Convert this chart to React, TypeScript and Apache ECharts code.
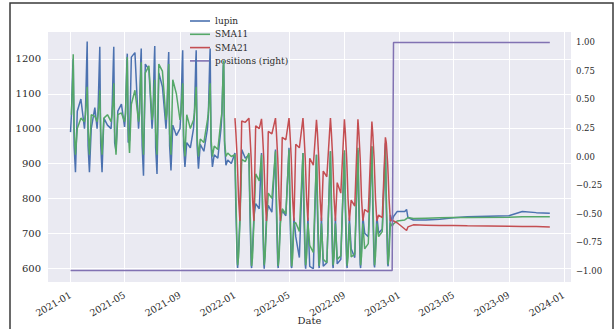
import React, { useEffect, useRef } from 'react';
import * as echarts from 'echarts';

// Plot order of the chart (dates as they sit on the x axis)
const dates = [
  '2021-01-01','2021-01-03','2021-01-06','2021-01-07','2021-01-09','2021-01-12','2021-01-16','2021-01-24',
  '2021-02-01','2021-02-03','2021-02-06','2021-02-07','2021-02-09','2021-02-12','2021-02-16','2021-02-24',
  '2021-03-01','2021-03-03','2021-03-06','2021-03-07','2021-03-09','2021-03-12','2021-03-16','2021-03-24',
  '2021-04-01','2021-04-03','2021-04-06','2021-04-07','2021-04-09','2021-04-12','2021-04-16','2021-04-24',
  '2021-05-01','2021-05-03','2021-05-06','2021-05-07','2021-05-09','2021-05-12','2021-05-16','2021-05-24',
  '2021-06-01','2021-06-03','2021-06-06','2021-06-07','2021-06-09','2021-06-12','2021-06-16','2021-06-24',
  '2021-07-01','2021-07-03','2021-07-06','2021-07-07','2021-07-09','2021-07-12','2021-07-16','2021-07-24',
  '2021-08-01','2021-08-03','2021-08-06','2021-08-07','2021-08-09','2021-08-12','2021-08-16','2021-08-24',
  '2021-09-01','2021-09-03','2021-09-06','2021-09-07','2021-09-09','2021-09-12','2021-09-16','2021-09-24',
  '2021-10-01','2021-10-03','2021-10-06','2021-10-07','2021-10-09','2021-10-12','2021-10-16','2021-10-24',
  '2021-11-01','2021-11-03','2021-11-06','2021-11-07','2021-11-09','2021-11-12','2021-11-16','2021-11-24',
  '2021-12-01','2021-12-03','2021-12-06','2021-12-07','2021-12-09','2021-12-12','2021-12-16','2021-12-24',
  '2022-01-01','2022-01-03','2022-01-06','2022-01-07','2022-01-09','2022-01-12','2022-01-16','2022-01-24',
  '2022-02-01','2022-02-03','2022-02-06','2022-02-07','2022-02-09','2022-02-12','2022-02-16','2022-02-24',
  '2022-03-01','2022-03-03','2022-03-06','2022-03-07','2022-03-09','2022-03-12','2022-03-16','2022-03-24',
  '2022-04-01','2022-04-03','2022-04-06','2022-04-07','2022-04-09','2022-04-12','2022-04-16','2022-04-24',
  '2022-05-01','2022-05-03','2022-05-06','2022-05-07','2022-05-09','2022-05-12','2022-05-16','2022-05-24',
  '2022-06-01','2022-06-03','2022-06-06','2022-06-07','2022-06-09','2022-06-12','2022-06-16','2022-06-24',
  '2022-07-01','2022-07-03','2022-07-06','2022-07-07','2022-07-09','2022-07-12','2022-07-16','2022-07-24',
  '2022-08-01','2022-08-03','2022-08-06','2022-08-07','2022-08-09','2022-08-12','2022-08-16','2022-08-24',
  '2022-09-01','2022-09-03','2022-09-06','2022-09-07','2022-09-09','2022-09-12','2022-09-16','2022-09-24',
  '2022-10-01','2022-10-03','2022-10-06','2022-10-07','2022-10-09','2022-10-12','2022-10-16','2022-10-24',
  '2022-11-01','2022-11-03','2022-11-06','2022-11-07','2022-11-09','2022-11-12','2022-11-16','2022-11-24',
  '2022-12-01','2022-12-03','2022-12-06','2022-12-07','2022-12-09','2022-12-12','2022-12-16','2022-12-19','2022-12-27',
  '2023-01-13','2023-01-17','2023-01-20',
  '2023-02-01','2023-03-01','2023-04-01','2023-05-01','2023-06-01','2023-09-01','2023-10-01','2023-11-01','2023-12-01',
];

const lupin = [
  990,1040,1180,1200,950,875, 1050,1085,
  1000,1040,1200,1250,950,875, 1000,1060,
  1000,1045,1190,1235,955,875, 1030,1010,
  1000,1040,1190,1235,960,935, 1050,1070,
  1005,1040,1190,1215,960,965, 1205,1218,
  1000,1040,1200,1230,950,865, 1185,1170,
  1000,1040,1200,1237,945,870, 1160,1120,
  1000,1045,1190,1220,950,880, 1010,980,
  1000,1045,1190,1225,950,890, 960,945,
  1000,1040,1190,1225,950,885, 955,935,
  1000,1040,1195,1230,950,890, 925,915,
  1000,1040,1180,1190,955,895, 910,900,
  930,770,615,600,650,745, 940,915,
  925,775,610,600,655,745, 785,770,
  930,770,615,598,650,745, 780,760,
  940,765,610,600,650,745, 765,750,
  945,760,605,600,655,745, 690,630,
  930,760,610,598,650,745, 605,598,
  925,765,612,600,655,745, 605,615,
  935,770,610,600,650,745, 612,625,
  930,765,612,600,660,745, 655,630,
  938,770,610,600,655,748, 700,690,
  947,765,610,602,660,750, 700,712,
  958,770,612,605,665,752, 735,748,762,
  762,768,745,
  738,738,740,744,747,750,762,759,757,
];

const sma11 = [
  null,1040,1150,1213,1000,925, 1000,1030,
  1020,1040,1090,1120,1000,925, 1040,1035,
  1020,1040,1080,1110,990,925, 1030,1040,
  1020,1040,1090,1130,990,925, 1040,1045,
  1020,1045,1170,1205,1000,930, 1070,1110,
  1020,1045,1160,1190,995,925, 1160,1180,
  1025,1045,1120,1140,990,925, 1185,1165,
  1025,1045,1160,1185,985,925, 1140,1100,
  1025,1045,1110,1130,980,920, 1040,1000,
  1025,1045,1100,1120,975,920, 970,960,
  1025,1045,1110,1130,970,920, 950,940,
  1025,1045,1170,1195,965,920, 930,920,
  925,810,640,608,632,728, 912,905,
  930,805,640,606,630,728, 870,850,
  925,810,642,608,634,728, 815,800,
  935,808,640,606,632,728, 770,755,
  940,810,638,605,630,728, 730,705,
  930,805,640,608,632,728, 665,645,
  925,810,640,606,634,728, 625,615,
  935,808,642,608,632,728, 625,635,
  938,810,640,607,632,728, 632,640,
  945,810,640,608,634,728, 655,670,
  950,812,640,608,635,728, 690,705,
  940,810,642,610,636,730, 720,727,735,
  738,742,745,
  742,743,744,745,745,746,747,747,747,
];

const sma21 = [
  null,null,null,null,null,null, null,null,
  null,null,null,null,null,null, null,null,
  null,null,null,null,null,null, null,null,
  null,null,null,null,null,null, null,null,
  null,null,null,null,null,null, null,null,
  null,null,null,null,null,null, null,null,
  null,null,null,null,null,null, null,null,
  null,null,null,null,null,null, null,null,
  null,null,null,null,null,null, null,null,
  null,null,null,null,null,null, null,null,
  null,null,null,null,null,null, null,null,
  null,null,null,null,null,null, null,null,
  1030,990,915,878,800,735, 1022,1018,
  1030,990,915,878,800,735, 1008,1000,
  1028,990,915,878,800,735, 992,985,
  1030,990,915,878,800,735, 975,968,
  1030,990,915,878,800,735, 955,945,
  1030,990,915,878,800,735, 915,895,
  1025,990,915,878,800,735, 878,862,
  1030,990,915,878,800,735, 845,815,
  1027,990,915,878,800,735, 795,778,
  1027,990,915,878,800,735, 768,760,
  1020,985,912,875,800,735, 752,745,
  975,960,900,870,800,735, 738,735,730,
  712,708,718,
  724,723,722,722,721,720,719,719,718,
];

const positions = [
  -1,-1,-1,-1,-1,-1, -1,-1,
  -1,-1,-1,-1,-1,-1, -1,-1,
  -1,-1,-1,-1,-1,-1, -1,-1,
  -1,-1,-1,-1,-1,-1, -1,-1,
  -1,-1,-1,-1,-1,-1, -1,-1,
  -1,-1,-1,-1,-1,-1, -1,-1,
  -1,-1,-1,-1,-1,-1, -1,-1,
  -1,-1,-1,-1,-1,-1, -1,-1,
  -1,-1,-1,-1,-1,-1, -1,-1,
  -1,-1,-1,-1,-1,-1, -1,-1,
  -1,-1,-1,-1,-1,-1, -1,-1,
  -1,-1,-1,-1,-1,-1, -1,-1,
  -1,-1,-1,-1,-1,-1, -1,-1,
  -1,-1,-1,-1,-1,-1, -1,-1,
  -1,-1,-1,-1,-1,-1, -1,-1,
  -1,-1,-1,-1,-1,-1, -1,-1,
  -1,-1,-1,-1,-1,-1, -1,-1,
  -1,-1,-1,-1,-1,-1, -1,-1,
  -1,-1,-1,-1,-1,-1, -1,-1,
  -1,-1,-1,-1,-1,-1, -1,-1,
  -1,-1,-1,-1,-1,-1, -1,-1,
  -1,-1,-1,-1,-1,-1, -1,-1,
  -1,-1,-1,-1,-1,-1, -1,-1,
  -1,-1,-1,-1,-1,-1, -1,1,1,
  1,1,1,
  1,1,1,1,1,1,1,1,1,
];

const xTickDates = [
  '2021-01-01','2021-05-01','2021-09-01','2022-01-01','2022-05-01',
  '2022-09-01','2023-01-01','2023-05-01','2023-09-01','2024-01-01',
];
const leftTicks = [600, 700, 800, 900, 1000, 1100, 1200];
const rightTicks = [-1, -0.75, -0.5, -0.25, 0, 0.25, 0.5, 0.75, 1];
const xMinDate = '2020-11-12';
const xMaxDate = '2024-01-17';

const FONT = 'DejaVu Serif';
const TEXT = '#2b2b2b';

export default function App() {
  const ref = useRef<HTMLDivElement>(null);

  useEffect(() => {
    const chart = echarts.init(ref.current as HTMLDivElement, null, { renderer: 'svg' });
    const ts = (d: string) => Date.parse(d + 'T00:00:00Z');
    const pairs = (vals: (number | null)[]) => dates.map((d, i) => [ts(d), vals[i]]);
    const fmtDate = (v: number) => {
      const d = new Date(v);
      return `${d.getUTCFullYear()}-${String(d.getUTCMonth() + 1).padStart(2, '0')}`;
    };
    const lineSeries = (name: string, vals: (number | null)[], color: string, yIdx: number, z: number) => ({
      name,
      type: 'line',
      xAxisIndex: 0,
      yAxisIndex: yIdx,
      data: pairs(vals),
      symbol: 'none',
      showSymbol: false,
      connectNulls: false,
      z,
      lineStyle: { color, width: 1.5 },
      itemStyle: { color },
      emphasis: { disabled: true },
    });

    const option: any = {
      animation: false,
      backgroundColor: '#ffffff',
      grid: {
        left: 48,
        top: 31,
        width: 523,
        height: 251,
        show: true,
        backgroundColor: '#EAEAF2',
        borderWidth: 0,
        containLabel: false,
        outerBoundsMode: 'none',
      },
      legend: {
        orient: 'vertical',
        left: 185,
        top: 11,
        icon: 'rect',
        itemWidth: 20,
        itemHeight: 1.6,
        itemGap: 3.3,
        data: ['lupin', 'SMA11', 'SMA21', 'positions (right)'],
        textStyle: { fontFamily: FONT, fontSize: 9, color: TEXT, lineHeight: 10 },
        selectedMode: false,
      },
      xAxis: {
        type: 'value',
        min: ts(xMinDate),
        max: ts(xMaxDate),
        name: 'Date',
        nameLocation: 'middle',
        nameGap: 33,
        nameMoveOverlap: false,
        nameTextStyle: { fontFamily: FONT, fontSize: 10, color: TEXT },
        axisLine: { show: false },
        axisTick: { show: false },
        splitLine: { show: false },
        axisLabel: {
          customValues: xTickDates.map(ts),
          formatter: (v: number) => fmtDate(v),
          rotate: 30,
          margin: 12,
          fontFamily: FONT,
          fontSize: 9.5,
          color: TEXT,
        },
      },
      yAxis: [
        {
          type: 'value',
          position: 'left',
          min: 560,
          max: 1280,
          axisLine: { show: false },
          axisTick: { show: false },
          splitLine: { show: true, lineStyle: { color: '#ffffff', width: 1 } },
          axisLabel: {
            customValues: leftTicks,
            formatter: (v: number) => String(v),
            margin: 7,
            fontFamily: FONT,
            fontSize: 10,
            color: TEXT,
          },
        },
        {
          type: 'value',
          position: 'right',
          min: -1.1,
          max: 1.1,
          axisLine: { show: false },
          axisTick: { show: false },
          splitLine: { show: false },
          axisLabel: {
            customValues: rightTicks,
            formatter: (v: number) => (v < 0 ? '\u2212' : '') + Math.abs(v).toFixed(2),
            margin: 5,
            fontFamily: FONT,
            fontSize: 8.5,
            color: TEXT,
          },
        },
      ],
      series: [
        {
          name: '_xgrid',
          type: 'line',
          xAxisIndex: 0,
          yAxisIndex: 0,
          data: [],
          z: 1,
          silent: true,
          markLine: {
            z: 1,
            silent: true,
            symbol: ['none', 'none'],
            label: { show: false },
            emphasis: { disabled: true },
            lineStyle: { color: '#ffffff', width: 1, type: 'solid' },
            data: xTickDates.map((d) => ({ xAxis: ts(d) })),
          },
        },
        lineSeries('lupin', lupin, '#4C72B0', 0, 10),
        lineSeries('SMA11', sma11, '#55A868', 0, 11),
        lineSeries('SMA21', sma21, '#C44E52', 0, 12),
        lineSeries('positions (right)', positions, '#8172B2', 1, 13),
      ],
      graphic: [
        {
          type: 'rect',
          silent: true,
          z: 100,
          shape: { x: 10, y: 3, width: 603, height: 360 },
          style: { fill: 'none', stroke: '#3a3a3a', lineWidth: 1.5 },
        },
      ],
    };

    chart.setOption(option);
    return () => chart.dispose();
  }, []);

  return (
    <div
      ref={ref}
      style={{ position: 'fixed', left: 0, top: 0, width: 615, height: 329, background: '#ffffff' }}
    />
  );
}
